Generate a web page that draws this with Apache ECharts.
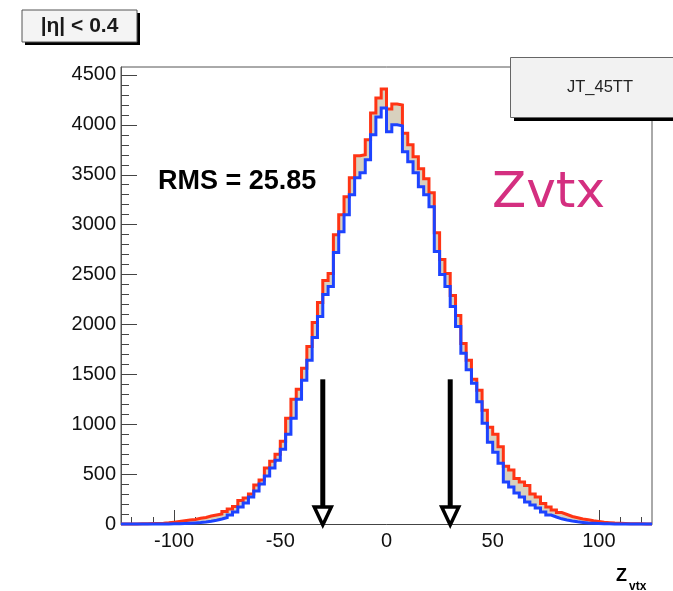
<!DOCTYPE html>
<html><head><meta charset="utf-8">
<script src="https://cdn.jsdelivr.net/npm/echarts@6/dist/echarts.min.js"></script>
<style>html,body{margin:0;padding:0;background:#fff}#c{width:673px;height:591px}</style>
</head><body><div id="c"></div>
<script>
// ---- data ----
const xMin = -125, xMax = 125, binWidth = 2.5;
const redCounts = [
  0,1,1,2,3,4,6,8,12,18,
  25,32,40,45,58,65,80,90,100,125,
  150,175,235,260,300,390,440,560,630,700,
  830,1060,1250,1350,1560,1780,2020,2220,2440,2510,
  2900,3100,3280,3470,3690,3700,3850,4120,4270,4360,
  4160,4210,4200,3915,3800,3680,3560,3460,3320,2920,
  2650,2510,2290,2090,1810,1640,1450,1340,1140,970,
  900,775,580,540,455,420,385,300,270,205,
  170,140,115,95,75,62,50,42,32,25,
  18,13,9,7,5,3,2,2,1,0
];
const blueCounts = [
  0,0,0,0,0,0,0,1,1,2,
  3,5,7,10,14,20,28,38,50,65,
  90,120,170,210,270,330,400,480,560,640,
  750,900,1060,1250,1440,1640,1870,2080,2300,2380,
  2720,2930,3100,3300,3470,3520,3650,3900,4080,4170,
  3930,4000,3990,3730,3630,3520,3380,3300,3180,2730,
  2500,2380,2180,1980,1710,1545,1410,1225,1010,820,
  720,610,420,370,310,270,220,190,160,120,
  90,70,52,40,30,22,16,11,8,5,
  3,2,1,1,0,0,0,0,0,0
];
const majorX = [-100, -50, 0, 50, 100];
const minorX = [-120,-110,-90,-80,-70,-60,-40,-30,-20,-10,10,20,30,40,60,70,80,90,110,120];
const majorY = [0,500,1000,1500,2000,2500,3000,3500,4000,4500];
const minorY = [];
for (let v = 100; v < 4580; v += 100) if (v % 500 !== 0) minorY.push(v);
const yMax = 4580;
const arrowX = [-30, 30];
const arrowTop = 1450;
const rmsText = 'RMS = 25.85';
const triggerName = 'JT_45TT';
const etaCut = '|η| < 0.4';

function stepData(counts) {
  const d = counts.map((c, i) => [xMin + i * binWidth, c]);
  d.push([xMax, counts[counts.length - 1]]);
  return d;
}
const redStep = stepData(redCounts);
const blueStep = stepData(blueCounts);

const FONT = 'Liberation Sans';
const chart = echarts.init(document.getElementById('c'), null, {renderer: 'canvas'});
const tickColor = '#444';
const plain = v => String(v);
const option = {
  animation: false,
  backgroundColor: '#fff',
  grid: {left: 121, right: 21, top: 67, bottom: 67, show: true, borderColor: '#555', borderWidth: 1},
  xAxis: [
    {type: 'value', min: xMin, max: xMax, position: 'bottom', z: 0,
     axisLine: {show: false, onZero: false}, splitLine: {show: false},
     axisTick: {show: true, inside: true, length: 14, customValues: majorX, lineStyle: {color: tickColor}},
     axisLabel: {customValues: majorX, formatter: plain, fontSize: 20, color: '#111', margin: 7, fontFamily: FONT}},
    {type: 'value', min: xMin, max: xMax, position: 'bottom', z: 0,
     axisLine: {show: false, onZero: false}, splitLine: {show: false},
     axisTick: {show: true, inside: true, length: 7, customValues: minorX, lineStyle: {color: tickColor}},
     axisLabel: {show: false}},
    {type: 'value', min: xMin, max: xMax, position: 'bottom', z: 5,
     axisLine: {show: true, onZero: false, lineStyle: {color: '#444', width: 1}}, splitLine: {show: false},
     axisTick: {show: false}, axisLabel: {show: false}}
  ],
  yAxis: [
    {type: 'value', min: 0, max: yMax, position: 'left', z: 0,
     axisLine: {show: true, onZero: false, lineStyle: {color: '#555'}}, splitLine: {show: false},
     axisTick: {show: true, inside: true, length: 16, customValues: majorY, lineStyle: {color: tickColor}},
     axisLabel: {customValues: majorY, formatter: plain, fontSize: 20, color: '#111', margin: 5, fontFamily: FONT}},
    {type: 'value', min: 0, max: yMax, position: 'left', z: 0,
     axisLine: {show: false, onZero: false}, splitLine: {show: false},
     axisTick: {show: true, inside: true, length: 8, customValues: minorY, lineStyle: {color: tickColor}},
     axisLabel: {show: false}}
  ],
  series: [
    {type: 'line', name: 'redFill', data: redStep, step: 'end', showSymbol: false, z: 2,
     lineStyle: {width: 0}, areaStyle: {color: '#d8d1be', opacity: 1}, silent: true},
    {type: 'line', name: 'blueFill', data: blueStep, step: 'end', showSymbol: false, z: 3,
     lineStyle: {width: 0}, areaStyle: {color: '#ffffff', opacity: 1}, silent: true},
    {type: 'line', name: 'red', data: redStep, step: 'end', showSymbol: false, z: 20,
     lineStyle: {width: 3, color: '#ff3414', join: 'miter', cap: 'butt'}, clip: false},
    {type: 'line', name: 'blue', data: blueStep, step: 'end', showSymbol: false, z: 21,
     lineStyle: {width: 3, color: '#1d43ff', join: 'miter', cap: 'butt'}, clip: false},
    {type: 'custom', name: 'arrows', z: 30, clip: false,
     data: arrowX.map(x => [x, arrowTop]),
     renderItem: function (params, api) {
       const x = api.value(0), top = api.value(1);
       const pTop = api.coord([x, top]);
       const pBot = api.coord([x, 0]);
       const headTopY = pBot[1] - 17;
       return {type: 'group', children: [
         {type: 'line', shape: {x1: pTop[0], y1: pTop[1], x2: pTop[0], y2: headTopY},
          style: {stroke: '#000', lineWidth: 5}},
         {type: 'polygon', shape: {points: [[pBot[0] - 8.5, headTopY], [pBot[0] + 8.5, headTopY], [pBot[0], pBot[1] + 1]]},
          style: {fill: '#fff', stroke: '#000', lineWidth: 3.5, lineJoin: 'miter'}}
       ]};
     }}
  ],
  graphic: [
    {type: 'rect', z: 100, shape: {x: 25, y: 13, width: 115, height: 32}, style: {fill: '#000'}},
    {type: 'rect', z: 101, shape: {x: 22, y: 10, width: 115, height: 32}, style: {fill: '#f4f4f4', stroke: '#555', lineWidth: 1}},
    {type: 'text', z: 102, x: 79.5, y: 26.5, style: {text: etaCut, font: 'bold 21px "Liberation Sans"', fill: '#1a1a1a', align: 'center', verticalAlign: 'middle'}},
    {type: 'rect', z: 100, shape: {x: 514, y: 118, width: 170, height: 3}, style: {fill: '#000'}},
    {type: 'rect', z: 101, shape: {x: 510.5, y: 57.5, width: 180, height: 60}, style: {fill: '#f2f2f2', stroke: '#666', lineWidth: 1}},
    {type: 'text', z: 102, x: 600, y: 87, style: {text: triggerName, font: '16.5px "Liberation Sans"', fill: '#222', align: 'center', verticalAlign: 'middle'}},
    {type: 'text', z: 102, x: 158, y: 182, style: {text: rmsText, font: 'bold 27px "Liberation Sans"', fill: '#000', align: 'left', verticalAlign: 'middle'}},
    {type: 'text', z: 102, x: 492, y: 194, style: {text: 'Zvtx', font: '50px "DejaVu Sans"', fill: '#d42f80', align: 'left', verticalAlign: 'middle'}},
    {type: 'text', z: 102, x: 616, y: 576, style: {text: 'Z', font: 'bold 18px "Liberation Sans"', fill: '#000', align: 'left', verticalAlign: 'middle'}},
    {type: 'text', z: 102, x: 629, y: 587, style: {text: 'vtx', font: 'bold 12px "Liberation Sans"', fill: '#000', align: 'left', verticalAlign: 'middle'}}
  ]
};
chart.setOption(option);
</script>
</body></html>
